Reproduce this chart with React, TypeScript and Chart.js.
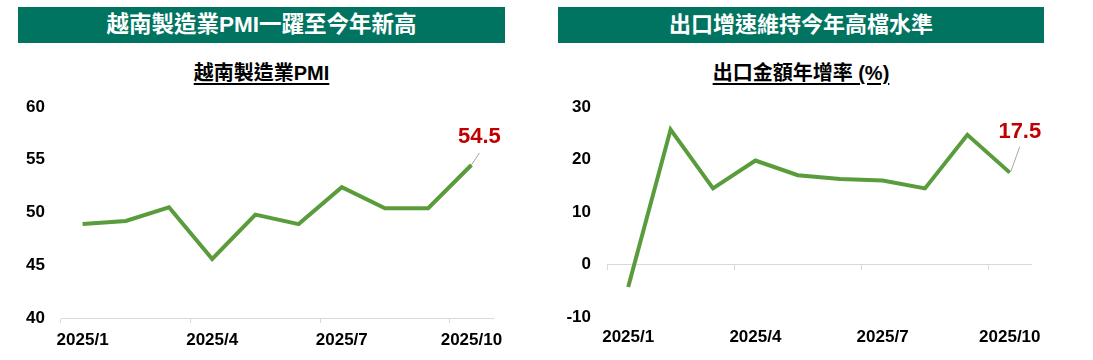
import React, { useEffect, useRef } from "react";
import { Chart, registerables } from "chart.js";

Chart.register(...registerables);

// ---------- data ----------
const months = ["2025/1", "2025/2", "2025/3", "2025/4", "2025/5", "2025/6", "2025/7", "2025/8", "2025/9", "2025/10"];
const pmiValues = [48.9, 49.2, 50.5, 45.6, 49.8, 48.9, 52.4, 50.4, 50.4, 54.5];
const exportValues = [-4.3, 25.7, 14.5, 19.8, 17.0, 16.3, 16.0, 14.5, 24.7, 17.5];
const pmiAxis = { min: 40, max: 60, step: 5 };
const exportAxis = { min: -10, max: 30, step: 10 };
const labelEvery = 3;

const leftHeader = "越南製造業PMI一躍至今年新高";
const rightHeader = "出口增速維持今年高檔水準";
const leftSubtitle = "越南製造業PMI";
const rightSubtitle = "出口金額年增率 (%)";

// ---------- styles ----------
const FONT = "'Liberation Sans', Arial, 'Noto Sans CJK TC', sans-serif";
const GREEN = "#5A9C3C";
const TEAL = "#007460";
const AXIS = "#D9D9D9";
const RED = "#C00000";

const lastLabelPlugin = {
  id: "lastLabel",
  afterDatasetsDraw(chart: any, _args: any, opts: any) {
    const meta = chart.getDatasetMeta(0);
    const n = meta.data.length;
    const pt = meta.data[n - 1];
    const v = chart.data.datasets[0].data[n - 1];
    const ctx = chart.ctx;
    ctx.save();
    ctx.strokeStyle = "#A6A6A6";
    ctx.lineWidth = 1;
    ctx.beginPath();
    ctx.moveTo(pt.x + opts.l0[0], pt.y + opts.l0[1]);
    ctx.lineTo(pt.x + opts.l1[0], pt.y + opts.l1[1]);
    ctx.stroke();
    ctx.fillStyle = RED;
    ctx.font = `bold 22px ${FONT}`;
    ctx.textAlign = "center";
    ctx.textBaseline = "middle";
    ctx.fillText(Number(v).toFixed(1), pt.x + opts.t[0], pt.y + opts.t[1]);
    ctx.restore();
  },
};

const tickFont = { family: FONT, size: 17, weight: "bold" as const };

const tickMarkColor = (c: any) =>
  c.index !== undefined && c.index % labelEvery === 0 ? AXIS : "rgba(0,0,0,0)";

function makeConfig(kind: "pmi" | "export"): any {
  const isPmi = kind === "pmi";
  const values = isPmi ? pmiValues : exportValues;
  const ax = isPmi ? pmiAxis : exportAxis;
  const xLabelTicks = {
    autoSkip: false,
    maxRotation: 0,
    minRotation: 0,
    padding: 7,
    color: "#000",
    font: tickFont,
    callback: (_v: any, i: number) => (i % labelEvery === 0 ? months[i] : ""),
  };
  const scales: any = {
    y: {
      min: ax.min,
      max: ax.max,
      ticks: { stepSize: ax.step, padding: 0, color: "#000", font: tickFont },
      grid: { display: true, drawOnChartArea: false, drawTicks: true, tickLength: 16, color: "rgba(0,0,0,0)" },
      border: { display: false },
      afterFit: (s: any) => {
        s.width = 61;
      },
    },
  };
  if (isPmi) {
    scales.x = {
      type: "category",
      position: "bottom",
      offset: true,
      grid: { offset: true, drawOnChartArea: false, drawTicks: true, tickLength: 5, color: tickMarkColor },
      border: { display: true, color: AXIS, width: 1 },
      ticks: xLabelTicks,
      afterFit: (s: any) => {
        s.height = 42;
      },
    };
  } else {
    scales.x = {
      type: "category",
      position: "bottom",
      offset: true,
      grid: { display: false, drawTicks: false },
      border: { display: false },
      ticks: { ...xLabelTicks, padding: 10 },
      afterFit: (s: any) => {
        s.height = 43;
      },
    };
    scales.x0 = {
      type: "category",
      axis: "x",
      position: { y: 0 },
      offset: true,
      grid: { offset: true, drawOnChartArea: false, drawTicks: true, tickLength: 5, color: tickMarkColor },
      border: { display: true, color: AXIS, width: 1 },
      ticks: { display: false },
    };
  }
  return {
    type: "line",
    data: {
      labels: months,
      datasets: [
        {
          data: values,
          borderColor: GREEN,
          borderWidth: 4,
          pointRadius: 0,
          tension: 0,
          fill: false,
          xAxisID: "x",
          yAxisID: "y",
        },
      ],
    },
    options: {
      animation: false,
      responsive: false,
      maintainAspectRatio: false,
      layout: { padding: { left: 0, top: 17, right: isPmi ? 53 : 62, bottom: 0 } },
      plugins: {
        legend: { display: false },
        tooltip: { enabled: false },
        lastLabel: isPmi
          ? { l0: [0, 0], l1: [8, -12], t: [8, -28] }
          : { l0: [1, -1], l1: [10, -26], t: [10, -41] },
      },
      scales,
    },
    plugins: [lastLabelPlugin],
  };
}

function LineChart({ kind, left }: { kind: "pmi" | "export"; left: number }) {
  const ref = useRef<HTMLCanvasElement | null>(null);
  const width = kind === "pmi" ? 546 : 547;
  useEffect(() => {
    if (!ref.current) return;
    const chart = new Chart(ref.current, makeConfig(kind));
    return () => chart.destroy();
  }, [kind]);
  return (
    <canvas
      ref={ref}
      width={width}
      height={270}
      style={{ position: "absolute", left, top: 90, width, height: 270 }}
    />
  );
}

function Header({ text, left, width, size }: { text: string; left: number; width: number; size: number }) {
  return (
    <div
      style={{
        position: "absolute",
        left,
        top: 7,
        width,
        height: 36,
        background: TEAL,
        color: "#fff",
        fontFamily: FONT,
        fontWeight: "bold",
        fontSize: size,
        lineHeight: "36px",
        textAlign: "center",
        whiteSpace: "nowrap",
      }}
    >
      {text}
    </div>
  );
}

function Subtitle({ text, left, width }: { text: string; left: number; width: number }) {
  return (
    <div
      style={{
        position: "absolute",
        left,
        top: 61,
        width,
        height: 24,
        lineHeight: "24px",
        textAlign: "center",
        fontFamily: FONT,
        fontWeight: "bold",
        fontSize: 20,
        color: "#000",
        whiteSpace: "nowrap",
      }}
    >
      <span style={{ textDecoration: "underline", textUnderlineOffset: "3px", textDecorationThickness: "1.5px" }}>
        {text}
      </span>
    </div>
  );
}

export default function App() {
  return (
    <div
      style={{
        position: "absolute",
        left: 0,
        top: 0,
        width: 1093,
        height: 360,
        background: "#fff",
        overflow: "hidden",
      }}
    >
      <Header text={leftHeader} left={18} width={487} size={22.5} />
      <Header text={rightHeader} left={558} width={486} size={22} />
      <Subtitle text={leftSubtitle} left={18} width={487} />
      <Subtitle text={rightSubtitle} left={558} width={486} />
      <LineChart kind="pmi" left={0} />
      <LineChart kind="export" left={546} />
    </div>
  );
}
